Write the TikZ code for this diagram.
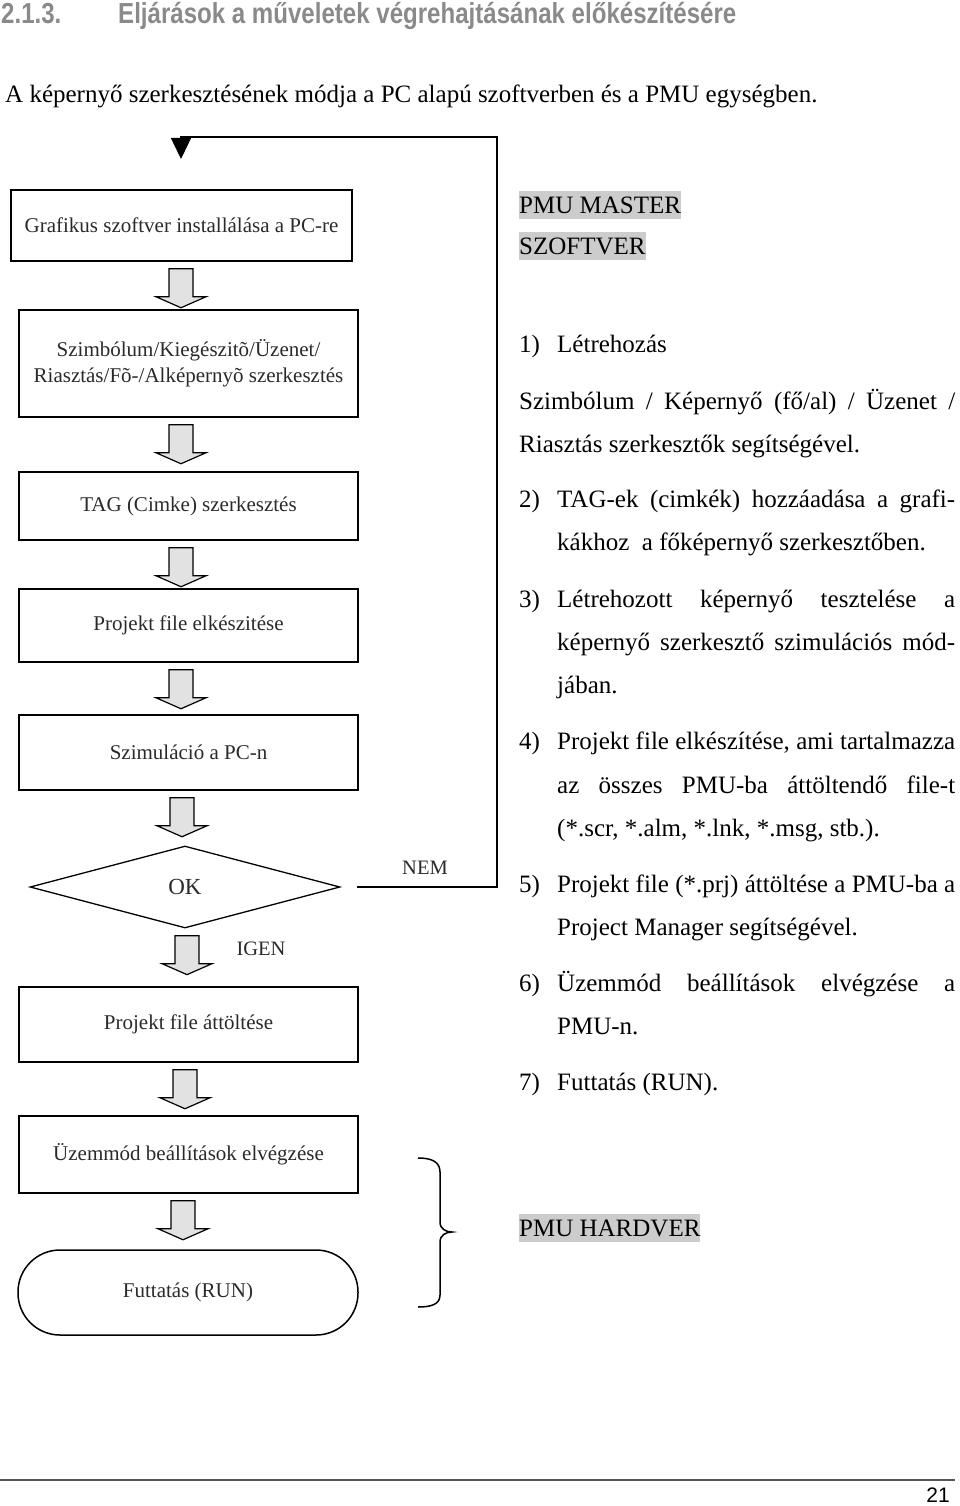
\documentclass[tikz,border=0pt]{standalone}
\usepackage{fontspec}
\setmainfont{Liberation Serif}
\newfontfamily\titlefont{Liberation Sans}[FakeStretch=0.83]
\newfontfamily\numfont{Liberation Sans}
\usetikzlibrary{arrows.meta,shapes.geometric,calc}
\definecolor{titlegray}{HTML}{8A8A8A}
\definecolor{hlgray}{HTML}{CCCCCC}
\definecolor{boxtext}{HTML}{2A2A2A}
\definecolor{arrowfill}{HTML}{E2E2E2}
\definecolor{footgray}{HTML}{555555}
\newcommand\blockarr[2]{%
  \path[blockarrst] let \p1=(#1.south) in
    ({#2pt-12pt},{\y1-7pt}) -- ({#2pt-12pt},{\y1-35pt}) -- ({#2pt-25pt},{\y1-35pt})
    -- ({#2pt},{\y1-46pt}) -- ({#2pt+25pt},{\y1-35pt}) -- ({#2pt+12pt},{\y1-35pt})
    -- ({#2pt+12pt},{\y1-7pt}) -- cycle;}
\begin{document}
\begin{tikzpicture}[x=1pt,y=-1pt,
  box/.style={draw, line width=1.5pt, inner sep=0pt, font=\fontsize{21}{26}\selectfont, text=boxtext, align=center},
  blockarrst/.style={draw, fill=arrowfill, line width=1.2pt, line join=miter},
  rtext/.style={anchor=base west, inner sep=0pt, font=\fontsize{25}{30}\selectfont},
  hl/.style={rtext, fill=hlgray, text height=22.5pt, text depth=5.5pt},
  lbl/.style={inner sep=0pt, font=\fontsize{20.5}{24}\selectfont, text=boxtext},
  conn/.style={line width=1.4pt}]
\useasboundingbox (0,0) rectangle (960,1506);

% heading
\node[anchor=base west, inner sep=0pt, font=\titlefont\bfseries\fontsize{29}{32}\selectfont, text=titlegray] (secnum) at (1,24) {2.1.3.};
\node[anchor=base west, inner sep=0pt, font=\titlefont\bfseries\fontsize{29}{32}\selectfont, text=titlegray] (title) at (118,24) {Eljárások a műveletek végrehajtásának előkészítésére};
\node[rtext] (subtitle) at (5,103) {A képernyő szerkesztésének módja a PC alapú szoftverben és a PMU egységben.};

% flowchart boxes
\node[box, minimum width=341pt, minimum height=71pt] (b1) at (181.5,225.5) {Grafikus szoftver installálása a PC-re};
\node[box, minimum width=339pt, minimum height=107pt] (b2) at (188.5,363.5) {Szimbólum/Kiegészitõ/Üzenet/\\Riasztás/Fõ-/Alképernyõ szerkesztés};
\node[box, minimum width=339pt, minimum height=68pt] (b3) at (188.5,506) {TAG (Cimke) szerkesztés};
\node[box, minimum width=339pt, minimum height=73pt] (b4) at (188.5,625.5) {Projekt file elkészitése};
\node[box, minimum width=339pt, minimum height=75pt] (b5) at (188.5,752.5) {Szimuláció a PC-n};
\node[diamond, draw, line width=1.3pt, minimum width=310pt, minimum height=82pt, inner sep=0pt, font=\fontsize{23}{26}\selectfont, text=boxtext] (ok) at (185,887) {OK};
\node[box, minimum width=339pt, minimum height=75pt] (b6) at (188.5,1024.5) {Projekt file áttöltése};
\node[box, minimum width=339pt, minimum height=77pt] (b7) at (188.5,1154.5) {Üzemmód beállítások elvégzése};
\node[box, rounded corners=42pt, minimum width=340pt, minimum height=85pt] (run) at (188,1292.5) {Futtatás (RUN)};

% block arrows
\blockarr{b1}{181}
\blockarr{b2}{181}
\blockarr{b3}{181}
\blockarr{b4}{181}
\blockarr{b5}{182}
\blockarr{ok}{187}
\blockarr{b6}{185}
\blockarr{b7}{183}

% loop back
\coordinate (loopR) at (497,137);
\coordinate (entry) at (181,159);
\draw[conn, -{Triangle[length=21pt,width=20pt]}, shorten <=16pt] (ok.east) -| (loopR) -| (entry);
\node[lbl] (nem) at (425,868) {NEM};
\node[lbl] (igen) at (261,949) {IGEN};

% brace
\draw[line width=1.5pt] (418,1158) .. controls (432,1158) and (440,1162) .. (440,1172)
  -- (440,1222) .. controls (440,1229) and (446,1232) .. (452,1232)
  .. controls (446,1232) and (440,1235) .. (440,1242)
  -- (440,1295) .. controls (440,1304) and (432,1307) .. (418,1307);

% right column
\node[hl] (pm1) at (519,213.5) {PMU MASTER};
\node[hl] (pm2) at (519,254.5) {SZOFTVER};
\node[rtext] (n1) at (519,352) {1)};
\node[rtext] (t1) at (557,352) {Létrehozás};
\node[rtext] (t1b) at (519,409) {\makebox[436pt][s]{Szimbólum / Képernyő (fő/al) / Üzenet /}};
\node[rtext] (t1c) at (519,452) {Riasztás szerkesztők segítségével.};
\node[rtext] (n2) at (519,507) {2)};
\node[rtext] (t2) at (557,507) {\makebox[398pt][s]{TAG-ek (cimkék) hozzáadása a grafi-}};
\node[rtext] (t2b) at (557,550) {kákhoz\ \ a főképernyő szerkesztőben.};
\node[rtext] (n3) at (519,607) {3)};
\node[rtext] (t3) at (557,607) {\makebox[398pt][s]{Létrehozott képernyő tesztelése a}};
\node[rtext] (t3b) at (557,650) {\makebox[398pt][s]{képernyő szerkesztő szimulációs mód-}};
\node[rtext] (t3c) at (557,693) {jában.};
\node[rtext] (n4) at (519,749) {4)};
\node[rtext] (t4) at (557,749) {\makebox[398pt][s]{Projekt file elkészítése, ami tartalmazza}};
\node[rtext] (t4b) at (557,793) {\makebox[398pt][s]{az összes PMU-ba áttöltendő file-t}};
\node[rtext] (t4c) at (557,836) {(*.scr, *.alm, *.lnk, *.msg, stb.).};
\node[rtext] (n5) at (519,892) {5)};
\node[rtext] (t5) at (557,892) {\makebox[398pt][s]{Projekt file (*.prj) áttöltése a PMU-ba a}};
\node[rtext] (t5b) at (557,935) {Project Manager segítségével.};
\node[rtext] (n6) at (519,991) {6)};
\node[rtext] (t6) at (557,991) {\makebox[398pt][s]{Üzemmód beállítások elvégzése a}};
\node[rtext] (t6b) at (557,1034) {PMU-n.};
\node[rtext] (n7) at (519,1090) {7)};
\node[rtext] (t7) at (557,1090) {Futtatás (RUN).};
\node[hl] (hw) at (519,1236) {PMU HARDVER};

% footer
\draw[line width=2pt, footgray] (0,1480) -- (955,1480);
\node[anchor=base east, inner sep=0pt, font=\numfont\fontsize{21}{24}\selectfont] (pg) at (950,1502) {21};
\end{tikzpicture}
\end{document}
